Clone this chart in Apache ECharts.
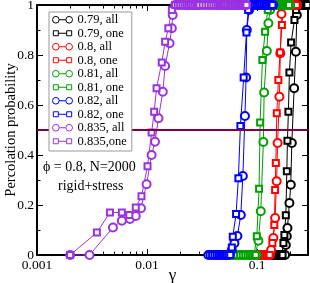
<!DOCTYPE html>
<html>
<head>
<meta charset="utf-8">
<script src="https://cdn.jsdelivr.net/npm/echarts@6/dist/echarts.min.js"></script>
<style>
html,body{margin:0;padding:0;background:#fff;}
#chart{width:310px;height:283px;}
</style>
</head>
<body>
<div id="chart"></div>
<script>
// ---- data (gamma, percolation probability) ----
const g079all = [0.136,0.14,0.144,0.148,0.152,0.156,0.16,0.164,0.168,0.172,0.176,0.1795,0.1824,0.1862,0.1886,0.1966,0.2023,0.2068,0.2169,0.2249,0.2297,0.234,0.24,0.246,0.252,0.258,0.264,0.27,0.276,0.282,0.288];
const p079all = [0,0,0,0,0,0,0,0,0,0,0,0,0.04,0.075,0.108,0.208,0.281,0.448,0.667,0.813,0.96,1,1,1,1,1,1,1,1,1,1];
const g079one = [0.136,0.14,0.144,0.148,0.152,0.156,0.16,0.164,0.168,0.1705,0.1734,0.177,0.1824,0.1862,0.1886,0.1925,0.1966,0.2037,0.2184,0.226,0.232,0.238,0.244,0.25,0.256,0.262,0.268,0.274,0.28,0.286];
const p079one = [0,0,0,0,0,0,0,0,0,0,0.048,0.08,0.159,0.335,0.457,0.573,0.73,0.85,0.94,0.98,1,1,1,1,1,1,1,1,1,1];

const g080all = [0.096,0.1,0.104,0.108,0.112,0.116,0.12,0.124,0.128,0.131,0.134,0.1406,0.1457,0.1505,0.1535,0.1595,0.1625,0.1665,0.171,0.176,0.181,0.186,0.191,0.196,0.201,0.206,0.211,0.216,0.221,0.226,0.231];
const p080all = [0,0,0,0,0,0,0,0,0,0,0.02,0.068,0.148,0.295,0.448,0.633,0.807,0.964,1,1,1,1,1,1,1,1,1,1,1,1,1];
const g080one = [0.094,0.098,0.102,0.106,0.11,0.114,0.118,0.122,0.126,0.13,0.1377,0.1433,0.1457,0.148,0.151,0.156,0.1618,0.168,0.174,0.179,0.184,0.189,0.194,0.199,0.204,0.209,0.214,0.219,0.224,0.229];
const p080one = [0,0,0,0,0,0,0,0,0,0,0.048,0.12,0.26,0.368,0.567,0.7,0.81,0.92,1,1,1,1,1,1,1,1,1,1,1,1];

const g081all = [0.06,0.064,0.068,0.072,0.076,0.08,0.084,0.088,0.092,0.096,0.099,0.1028,0.108,0.114,0.1158,0.1225,0.1266,0.131,0.135,0.14,0.145,0.15,0.155,0.16,0.165,0.17,0.175,0.18,0.185,0.19,0.195,0.2];
const p081all = [0,0,0,0,0,0,0,0,0,0,0,0.057,0.175,0.452,0.65,0.816,0.927,0.98,1,1,1,1,1,1,1,1,1,1,1,1,1,1];
const g081one = [0.058,0.062,0.066,0.07,0.074,0.078,0.082,0.086,0.09,0.094,0.097,0.0994,0.1042,0.1065,0.1117,0.1182,0.125,0.13,0.135,0.14,0.145,0.15,0.155,0.16,0.165,0.17,0.175,0.18,0.185,0.19,0.195];
const p081one = [0,0,0,0,0,0,0,0,0,0,0,0.075,0.265,0.53,0.78,0.893,0.98,1,1,1,1,1,1,1,1,1,1,1,1,1,1];

const g082all = [0.036,0.038,0.04,0.042,0.044,0.046,0.048,0.05,0.052,0.054,0.056,0.0589,0.0622,0.0662,0.0711,0.0742,0.0775,0.0794,0.0806,0.0846,0.088,0.092,0.096,0.1,0.104,0.108,0.112,0.116,0.12,0.124,0.128,0.132,0.136,0.14];
const p082all = [0,0,0,0,0,0,0,0,0,0,0,0.02,0.047,0.076,0.16,0.316,0.556,0.71,0.9,0.98,1,1,1,1,1,1,1,1,1,1,1,1,1,1];
const g082one = [0.037,0.039,0.041,0.043,0.045,0.047,0.049,0.051,0.053,0.055,0.057,0.0589,0.0601,0.0644,0.0676,0.0705,0.0755,0.08,0.083,0.086,0.09,0.094,0.098,0.102,0.106,0.11,0.114,0.118,0.122,0.126,0.13,0.134,0.138];
const p082one = [0,0,0,0,0,0,0,0,0,0,0,0.03,0.073,0.164,0.307,0.516,0.71,0.89,0.98,1,1,1,1,1,1,1,1,1,1,1,1,1,1];

const g835all = [0.002,0.003,0.0049,0.0059,0.007,0.0079,0.0088,0.0099,0.011,0.0118,0.0127,0.0139,0.0146,0.016,0.0168,0.0171,0.018,0.019,0.02,0.021,0.022,0.023,0.024,0.025,0.026,0.027,0.028,0.029,0.03,0.032,0.034,0.036,0.038,0.04,0.042,0.044,0.046,0.048,0.05,0.052,0.054,0.056,0.058,0.06,0.062,0.064,0.066,0.068,0.07,0.072,0.074,0.076,0.078,0.08];
const p835all = [0,0,0.11,0.137,0.144,0.156,0.187,0.283,0.4,0.453,0.547,0.653,0.756,0.847,0.907,0.96,1,1,1,1,1,1,1,1,1,1,1,1,1,1,1,1,1,1,1,1,1,1,1,1,1,1,1,1,1,1,1,1,1,1,1,1,1,1];
const g835one = [0.002,0.0035,0.0046,0.0059,0.0069,0.0079,0.0089,0.0101,0.011,0.0116,0.0122,0.0136,0.0146,0.0156,0.0168,0.018,0.019,0.02,0.021,0.022,0.023,0.024,0.025,0.026,0.027,0.028,0.029,0.03,0.032,0.034,0.036,0.038,0.04,0.042,0.044,0.046,0.048,0.05,0.052,0.054,0.056,0.058,0.06,0.062,0.064,0.066,0.068,0.07,0.072,0.074,0.076,0.078,0.08];
const p835one = [0,0.09,0.17,0.17,0.16,0.19,0.235,0.355,0.49,0.573,0.667,0.77,0.853,0.907,0.98,1,1,1,1,1,1,1,1,1,1,1,1,1,1,1,1,1,1,1,1,1,1,1,1,1,1,1,1,1,1,1,1,1,1,1,1,1,1];

const seriesNames = ['0.79, all','0.79, one','0.8, all','0.8, one','0.81, all','0.81, one','0.82, all','0.82, one','0.835, all','0.835,one'];
const xMajorTicks = [0.001,0.01,0.1];
const xMinorTicks = [0.002,0.003,0.004,0.005,0.006,0.007,0.008,0.009,0.02,0.03,0.04,0.05,0.06,0.07,0.08,0.09,0.2];

// ---- presentation ----
const gammas = [g079all,g079one,g080all,g080one,g081all,g081one,g082all,g082one,g835all,g835one];
const probs  = [p079all,p079one,p080all,p080one,p081all,p081one,p082all,p082one,p835all,p835one];
const colors = ['#000000','#000000','#ff0000','#ff0000','#00a000','#00a000','#0000ff','#0000ff','#9a32e0','#9a32e0'];
const FONT = "'Liberation Serif','DejaVu Serif',serif";
const circlePath = 'path://M0,4 A4,4 0 1 1 8,4 A4,4 0 1 1 0,4 Z M8,4 L16,4 M16,4 A4,4 0 1 1 24,4 A4,4 0 1 1 16,4 Z';
const squarePath = 'path://M1,1 L7,1 L7,7 L1,7 Z M7,4 L17,4 M17,1 L23,1 L23,7 L17,7 Z M0,0 M24,8';

const series = seriesNames.map((name, i) => {
  const isAll = i % 2 === 0;
  const s = {
    name: name,
    type: 'line',
    xAxisIndex: 0, yAxisIndex: 0,
    data: gammas[i].map((g, j) => [g, probs[i][j]]),
    symbol: isAll ? 'emptyCircle' : 'emptyRect',
    symbolSize: isAll ? 8 : 6,
    showAllSymbol: true,
    clip: false,
    lineStyle: {color: colors[i], width: 1},
    itemStyle: {color: colors[i], borderWidth: 1},
    emphasis: {disabled: true},
    z: 2
  };
  if (i === 0) {
    s.markLine = {
      silent: true, symbol: 'none', animation: false,
      label: {show: false},
      lineStyle: {color: '#800040', width: 2, type: 'solid'},
      data: [{yAxis: 0.5}]
    };
  }
  return s;
});

const legendData = seriesNames.map((name, i) => ({
  name: name,
  icon: i % 2 === 0 ? circlePath : squarePath,
  itemStyle: {color: 'rgba(255,255,255,0)', borderColor: colors[i], borderWidth: 1}
}));

const logAxisBase = {
  type: 'log', logBase: 10, min: 0.001, max: 0.29,
  splitLine: {show: false}, minorSplitLine: {show: false}
};

const chart = echarts.init(document.getElementById('chart'), null, {renderer: 'canvas'});
chart.setOption({
  animation: false,
  backgroundColor: '#fff',
  grid: {left: 37, right: 2, top: 5, bottom: 28, containLabel: false, outerBoundsMode: 'none'},
  xAxis: [
    Object.assign({}, logAxisBase, {
      position: 'bottom',
      name: 'γ', nameLocation: 'middle', nameGap: 12, nameMoveOverlap: false,
      nameTextStyle: {fontFamily: FONT, fontSize: 17, color: '#000'},
      axisLine: {show: true, lineStyle: {color: '#000', width: 2}},
      axisTick: {show: true, inside: true, length: 6, customValues: xMajorTicks, lineStyle: {color: '#000', width: 1}},
      axisLabel: {show: true, customValues: xMajorTicks, margin: 3, fontFamily: FONT, fontSize: 13.5, color: '#000',
        formatter: v => String(+v.toPrecision(3))}
    }),
    Object.assign({}, logAxisBase, {
      position: 'bottom',
      axisLine: {show: false},
      axisTick: {show: true, inside: true, length: 3.5, customValues: xMinorTicks, lineStyle: {color: '#000', width: 1}},
      axisLabel: {show: false}
    }),
    Object.assign({}, logAxisBase, {
      position: 'top',
      axisLine: {show: true, lineStyle: {color: '#000', width: 2}},
      axisTick: {show: true, inside: true, length: 6, customValues: xMajorTicks, lineStyle: {color: '#000', width: 1}},
      axisLabel: {show: false}
    }),
    Object.assign({}, logAxisBase, {
      position: 'top',
      axisLine: {show: false},
      axisTick: {show: true, inside: true, length: 3.5, customValues: xMinorTicks, lineStyle: {color: '#000', width: 1}},
      axisLabel: {show: false}
    })
  ],
  yAxis: [
    {
      type: 'value', position: 'left', min: 0, max: 1, interval: 0.2,
      name: 'Percolation probability', nameLocation: 'middle', nameGap: 18, nameMoveOverlap: false,
      nameTextStyle: {fontFamily: FONT, fontSize: 14.5, color: '#000'},
      axisLine: {show: true, lineStyle: {color: '#000', width: 2}},
      axisTick: {show: true, inside: true, length: 6, lineStyle: {color: '#000', width: 1}},
      minorTick: {show: true, splitNumber: 2, length: 3.5, lineStyle: {color: '#000', width: 1}},
      axisLabel: {margin: 3, fontFamily: FONT, fontSize: 13.5, color: '#000'},
      splitLine: {show: false}
    },
    {
      type: 'value', position: 'right', min: 0, max: 1, interval: 0.2,
      axisLine: {show: true, lineStyle: {color: '#000', width: 2}},
      axisTick: {show: true, inside: true, length: 6, lineStyle: {color: '#000', width: 1}},
      minorTick: {show: true, splitNumber: 2, length: 3.5, lineStyle: {color: '#000', width: 1}},
      axisLabel: {show: false},
      splitLine: {show: false}
    }
  ],
  legend: {
    show: true, orient: 'vertical', left: 49, top: 12,
    padding: [1, 5, 3, 3], itemGap: 0, itemWidth: 20, itemHeight: 7,
    backgroundColor: '#fff', borderColor: '#999', borderWidth: 1,
    selectedMode: false,
    textStyle: {fontFamily: FONT, fontSize: 12.5, color: '#000', lineHeight: 13.5},
    data: legendData,
    z: 10
  },
  graphic: [
    {type: 'text', left: 43, top: 160, z: 20,
     style: {text: 'ϕ = 0.8, N=2000', font: '14px ' + FONT, fill: '#000'}},
    {type: 'text', left: 58, top: 179, z: 20,
     style: {text: 'rigid+stress', font: '14px ' + FONT, fill: '#000'}}
  ],
  series: series
});
</script>
</body>
</html>
